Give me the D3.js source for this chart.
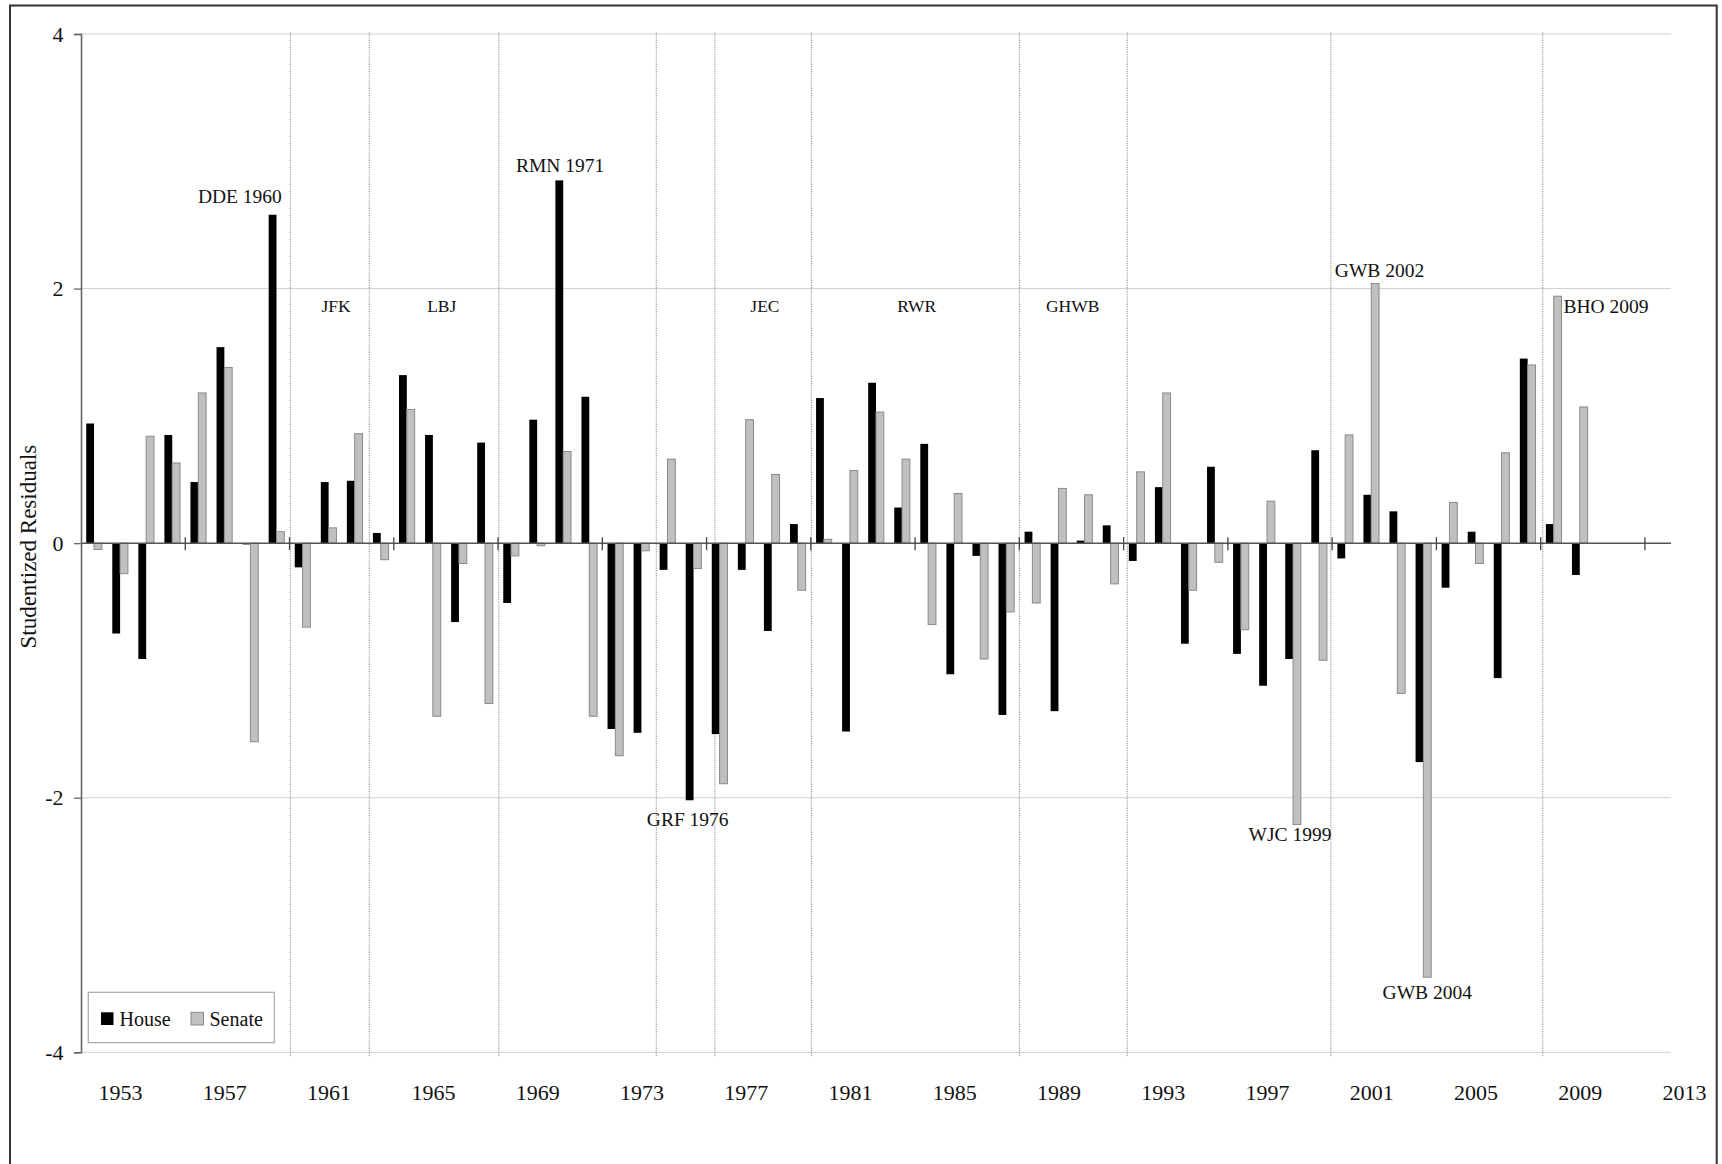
<!DOCTYPE html>
<html>
<head>
<meta charset="utf-8">
<script src="https://cdn.jsdelivr.net/npm/d3@7"></script>
<style>
  html, body { margin: 0; padding: 0; background: #fff; }
  svg { display: block; }
  text { font-family: "Liberation Serif", "Times New Roman", serif; fill: #111; }
</style>
</head>
<body>
<svg id="chart" width="1722" height="1164"></svg>
<script>
// Election-year studentized residuals, 1953–2010
const years = d3.range(1953, 2011);

const house = [
   0.94, -0.71, -0.91,  0.85,  0.48,  1.54, -0.01,  2.58, -0.19,  0.48,
   0.49,  0.08,  1.32,  0.85, -0.62,  0.79, -0.47,  0.97,  2.85,  1.15,
  -1.46, -1.49, -0.21, -2.02, -1.50, -0.21, -0.69,  0.15,  1.14, -1.48,
   1.26,  0.28,  0.78, -1.03, -0.10, -1.35,  0.09, -1.32,  0.02,  0.14,
  -0.14,  0.44, -0.79,  0.60, -0.87, -1.12, -0.91,  0.73, -0.12,  0.38,
   0.25, -1.72, -0.35,  0.09, -1.06,  1.45,  0.15, -0.25
];

const senate = [
  -0.05, -0.24,  0.84,  0.63,  1.18,  1.38, -1.56,  0.09, -0.66,  0.12,
   0.86, -0.13,  1.05, -1.36, -0.16, -1.26, -0.10, -0.02,  0.72, -1.36,
  -1.67, -0.06,  0.66, -0.20, -1.89,  0.97,  0.54, -0.37,  0.03,  0.57,
   1.03,  0.66, -0.64,  0.39, -0.91, -0.54, -0.47,  0.43,  0.38, -0.32,
   0.56,  1.18, -0.37, -0.15, -0.68,  0.33, -2.21, -0.92,  0.85,  2.04,
  -1.18, -3.41,  0.32, -0.16,  0.71,  1.40,  1.94,  1.07
];

const seriesNames = ["House", "Senate"];

// x-axis labels (every fourth year)
const tickYears = d3.range(1953, 2014, 4);
// y-axis ticks
const yTicks = [-4, -2, 0, 2, 4];

// Changes of administration (in year-slot units)
const adminBreaks = [1961.03, 1964.06, 1969.03, 1975.07, 1977.32, 1981.02, 1989.0, 1993.14, 2000.95, 2009.08];

// Administrations labelled by initials
const presidents = ["JFK", "LBJ", "JEC", "RWR", "GHWB"];
const presStart  = [1961.03, 1964.06, 1977.32, 1981.02, 1989.0];
const presEnd    = [1964.06, 1969.03, 1981.02, 1989.0, 1993.14];

// Notable outliers
const noteText   = ["DDE 1960", "RMN 1971", "GRF 1976", "WJC 1999", "GWB 2002", "GWB 2004", "BHO 2009"];
const noteYear   = [1960, 1971, 1976, 1999, 2002, 2004, 2009];
const noteSeries = ["House", "House", "House", "Senate", "Senate", "Senate", "Senate"];

// ---- layout ----
const svg = d3.select("#chart");
const plot = { left: 81, right: 1671, top: 34, bottom: 1052.3 };

const x = d3.scaleLinear().domain([1953, 2014]).range([plot.left, plot.right]);
const step = x(1954) - x(1953);
const barW = step * 0.3;
const y = d3.scaleLinear().domain([-4, 4]).range([plot.bottom, plot.top]);

const colors = { House: "#000", Senate: "#c0c0c0" };

// outer frame
svg.append("rect")
  .attr("x", 10).attr("y", 5.5).attr("width", 1706.7).attr("height", 1200)
  .attr("fill", "none").attr("stroke", "#333").attr("stroke-width", 2);

// horizontal gridlines
svg.append("g").selectAll("line")
  .data(yTicks.filter(d => d !== 0))
  .join("line")
  .attr("x1", plot.left).attr("x2", plot.right)
  .attr("y1", d => y(d)).attr("y2", d => y(d))
  .attr("stroke", "#cfcfcf").attr("stroke-width", 1);

// administration dividers
svg.append("g").selectAll("line")
  .data(adminBreaks)
  .join("line")
  .attr("x1", d => x(d)).attr("x2", d => x(d))
  .attr("y1", plot.top - 1.5).attr("y2", plot.bottom + 5)
  .attr("stroke", "#8a8a8a").attr("stroke-width", 1)
  .attr("stroke-dasharray", "1.2,1.2");

// bars
const rows = years.map((yr, i) => ({ year: yr, House: house[i], Senate: senate[i] }));
const barG = svg.append("g");
seriesNames.forEach((s, k) => {
  barG.append("g").selectAll("rect")
    .data(rows)
    .join("rect")
    .attr("x", d => x(d.year + 0.5) - barW + k * barW)
    .attr("width", barW)
    .attr("y", d => y(Math.max(0, d[s])))
    .attr("height", d => Math.max(0.8, Math.abs(y(d[s]) - y(0))))
    .attr("fill", colors[s])
    .attr("stroke", s === "Senate" ? "#8a8a8a" : "none")
    .attr("stroke-width", 1);
});

// zero line with category tick marks
svg.append("line")
  .attr("x1", plot.left).attr("x2", plot.right)
  .attr("y1", y(0)).attr("y2", y(0))
  .attr("stroke", "#555").attr("stroke-width", 1.5);
svg.append("g").selectAll("line")
  .data(d3.range(1957, 2014, 4))
  .join("line")
  .attr("x1", d => x(d)).attr("x2", d => x(d))
  .attr("y1", y(0) - 6).attr("y2", y(0) + 7)
  .attr("stroke", "#444").attr("stroke-width", 1.3);

// y axis (plain hyphen for negatives)
const yAxis = svg.append("g")
  .attr("transform", `translate(${plot.left},0)`)
  .call(d3.axisLeft(y).tickValues(yTicks).tickSize(7).tickPadding(10).tickFormat(d => String(d)));
yAxis.select(".domain").attr("stroke", "#666").attr("stroke-width", 1.6);
yAxis.selectAll(".tick line").attr("stroke", "#666").attr("stroke-width", 1.3);
yAxis.selectAll(".tick text")
  .attr("font-size", 22).attr("font-family", "Liberation Serif, serif").attr("fill", "#111")
  .attr("x", -17.5);

// x-axis labels (label for each slot group sits one slot to the right)
const xLabelScale = x.copy().domain([1951.5, 2012.5]);
const xAxis = svg.append("g")
  .attr("transform", `translate(0,${plot.bottom})`)
  .call(d3.axisBottom(xLabelScale).tickValues(tickYears).tickSize(0).tickFormat(d => String(d)));
xAxis.select(".domain").remove();
xAxis.selectAll(".tick text")
  .attr("font-size", 22).attr("font-family", "Liberation Serif, serif").attr("fill", "#111")
  .attr("y", 1100 - plot.bottom).attr("dy", 0);

// y-axis title
svg.append("text")
  .attr("transform", `translate(36,${(443.3 + 650) / 2}) rotate(-90)`)
  .attr("text-anchor", "middle")
  .attr("font-size", 23)
  .text("Studentized Residuals");

// administration labels
const presNudge = { JFK: 6.2, LBJ: 7.7, JEC: 1.8, RWR: 1.4, GHWB: -0.6 };
svg.append("g").selectAll("text")
  .data(presidents)
  .join("text")
  .attr("x", (d, i) => (x(presStart[i]) + x(presEnd[i])) / 2 + presNudge[d])
  .attr("y", 312)
  .attr("text-anchor", "middle")
  .attr("font-size", 17.5)
  .text(d => d);

// outlier annotations, placed relative to the bar they describe
const noteOffset = {
  "DDE 1960": { dx: -32.7, dy: -12,  anchor: "middle" },
  "RMN 1971": { dx: 0.8,   dy: -8.4, anchor: "middle" },
  "GRF 1976": { dx: -1.9,  dy: 25.7, anchor: "middle" },
  "WJC 1999": { dx: -7,    dy: 16.5, anchor: "middle" },
  "GWB 2002": { dx: 4.4,   dy: -6,   anchor: "middle" },
  "GWB 2004": { dx: 0,     dy: 22,   anchor: "middle" },
  "BHO 2009": { dx: 5.8,   dy: 16.4, anchor: "start" }
};
svg.append("g").selectAll("text")
  .data(noteText.map((t, i) => ({ t, year: noteYear[i], s: noteSeries[i] })))
  .join("text")
  .each(function (d) {
    const idx = years.indexOf(d.year);
    const v = d.s === "House" ? house[idx] : senate[idx];
    const k = seriesNames.indexOf(d.s);
    const cx = x(d.year + 0.5) - barW + k * barW + barW / 2;
    const o = noteOffset[d.t];
    d3.select(this)
      .attr("x", cx + o.dx)
      .attr("y", y(v) + o.dy)
      .attr("text-anchor", o.anchor);
  })
  .attr("font-size", 19.5)
  .text(d => d.t);

// legend
const lg = svg.append("g");
lg.append("rect")
  .attr("x", 88.3).attr("y", 992.3).attr("width", 186).attr("height", 50.4)
  .attr("fill", "#fff").attr("stroke", "#a8a8a8").attr("stroke-width", 1.2);
const legendX = [101, 191];
seriesNames.forEach((s, k) => {
  lg.append("rect")
    .attr("x", legendX[k]).attr("y", 1012.3).attr("width", 12.5).attr("height", 12.7)
    .attr("fill", colors[s])
    .attr("stroke", s === "Senate" ? "#8a8a8a" : "none");
  lg.append("text")
    .attr("x", legendX[k] + 18.5).attr("y", 1025.8)
    .attr("font-size", 20)
    .text(s);
});
</script>
</body>
</html>
